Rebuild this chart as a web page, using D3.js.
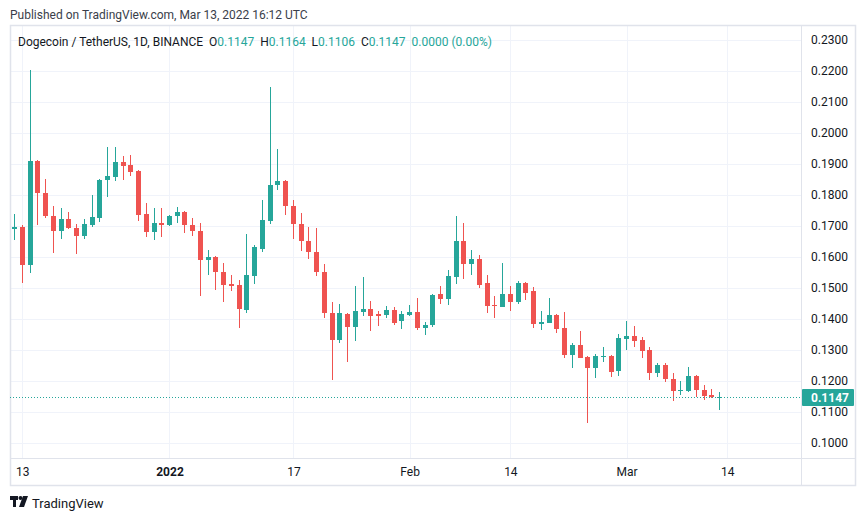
<!DOCTYPE html>
<html><head><meta charset="utf-8">
<script src="https://cdn.jsdelivr.net/npm/d3@7"></script>
<style>
html,body{margin:0;padding:0;background:#fff;}
svg{display:block;font-family:Roboto,"Open Sans",sans-serif;}
</style></head>
<body>
<svg id="chart" width="867" height="521"></svg>
<script>
const dates = ["2021-12-12","2021-12-13","2021-12-14","2021-12-15","2021-12-16","2021-12-17","2021-12-18","2021-12-19","2021-12-20","2021-12-21","2021-12-22","2021-12-23","2021-12-24","2021-12-25","2021-12-26","2021-12-27","2021-12-28","2021-12-29","2021-12-30","2021-12-31",
"2022-01-01","2022-01-02","2022-01-03","2022-01-04","2022-01-05","2022-01-06","2022-01-07","2022-01-08","2022-01-09","2022-01-10","2022-01-11","2022-01-12","2022-01-13","2022-01-14","2022-01-15","2022-01-16","2022-01-17","2022-01-18","2022-01-19","2022-01-20","2022-01-21","2022-01-22","2022-01-23","2022-01-24","2022-01-25","2022-01-26","2022-01-27","2022-01-28","2022-01-29","2022-01-30","2022-01-31",
"2022-02-01","2022-02-02","2022-02-03","2022-02-04","2022-02-05","2022-02-06","2022-02-07","2022-02-08","2022-02-09","2022-02-10","2022-02-11","2022-02-12","2022-02-13","2022-02-14","2022-02-15","2022-02-16","2022-02-17","2022-02-18","2022-02-19","2022-02-20","2022-02-21","2022-02-22","2022-02-23","2022-02-24","2022-02-25","2022-02-26","2022-02-27","2022-02-28",
"2022-03-01","2022-03-02","2022-03-03","2022-03-04","2022-03-05","2022-03-06","2022-03-07","2022-03-08","2022-03-09","2022-03-10","2022-03-11","2022-03-12","2022-03-13"];
const open = [0.1689,0.1698,0.1573,0.1911,0.1808,0.1733,0.1683,0.1723,0.1694,0.1669,0.1704,0.1727,0.1849,0.1859,0.1906,0.1897,0.1877,0.1740,0.1680,0.1711,
0.1702,0.1731,0.1746,0.1704,0.1685,0.1589,0.1601,0.1553,0.1512,0.1509,0.1428,0.1538,0.1625,0.1715,0.1831,0.1846,0.1766,0.1708,0.1653,0.1617,0.1553,0.1420,0.1331,0.1417,0.1373,0.1424,0.1433,0.1417,0.1414,0.1430,0.1392,
0.1414,0.1424,0.1370,0.1380,0.1482,0.1466,0.1537,0.1653,0.1578,0.1595,0.1517,0.1446,0.1440,0.1482,0.1456,0.1517,0.1490,0.1385,0.1388,0.1413,0.1371,0.1285,0.1316,0.1278,0.1243,0.1279,0.1282,0.1233,
0.1335,0.1345,0.1332,0.1301,0.1225,0.1253,0.1208,0.1167,0.1169,0.1217,0.1172,0.1156,0.1147];
const high = [0.1739,0.1703,0.2203,0.1913,0.1852,0.1766,0.1758,0.1745,0.1706,0.1723,0.1800,0.1853,0.1955,0.1955,0.1926,0.1929,0.1881,0.1775,0.1759,0.1759,
0.1737,0.1762,0.1748,0.1727,0.1711,0.1624,0.1604,0.1582,0.1541,0.1525,0.1673,0.1638,0.1783,0.2150,0.1949,0.1848,0.1785,0.1743,0.1698,0.1695,0.1578,0.1456,0.1449,0.1420,0.1508,0.1537,0.1459,0.1427,0.1443,0.1440,0.1427,
0.1446,0.1469,0.1391,0.1482,0.1508,0.1559,0.1733,0.1711,0.1624,0.1608,0.1543,0.1475,0.1582,0.1508,0.1524,0.1519,0.1503,0.1426,0.1468,0.1416,0.1423,0.1323,0.1361,0.1281,0.1288,0.1311,0.1284,0.1352,
0.1394,0.1377,0.1342,0.1311,0.1259,0.1259,0.1227,0.1201,0.1246,0.1220,0.1188,0.1175,0.1164];
const low = [0.1655,0.1515,0.1550,0.1704,0.1725,0.1614,0.1659,0.1690,0.1610,0.1659,0.1698,0.1714,0.1792,0.1846,0.1849,0.1861,0.1717,0.1663,0.1654,0.1663,
0.1699,0.1709,0.1676,0.1667,0.1473,0.1541,0.1492,0.1454,0.1489,0.1370,0.1418,0.1512,0.1615,0.1705,0.1817,0.1734,0.1657,0.1618,0.1592,0.1538,0.1402,0.1202,0.1321,0.1260,0.1328,0.1411,0.1362,0.1378,0.1404,0.1382,0.1367,
0.1411,0.1363,0.1347,0.1373,0.1449,0.1446,0.1514,0.1530,0.1543,0.1501,0.1420,0.1404,0.1438,0.1427,0.1449,0.1462,0.1372,0.1366,0.1386,0.1356,0.1275,0.1243,0.1273,0.1065,0.1211,0.1262,0.1214,0.1217,
0.1301,0.1310,0.1275,0.1204,0.1212,0.1196,0.1134,0.1154,0.1166,0.1147,0.1140,0.1146,0.1106];
const close = [0.1698,0.1573,0.1911,0.1805,0.1731,0.1683,0.1723,0.1692,0.1669,0.1706,0.1729,0.1848,0.1861,0.1906,0.1894,0.1874,0.1737,0.1680,0.1711,0.1702,
0.1733,0.1746,0.1702,0.1683,0.1589,0.1601,0.1551,0.1509,0.1505,0.1431,0.1541,0.1631,0.1718,0.1833,0.1846,0.1763,0.1705,0.1651,0.1615,0.1551,0.1418,0.1331,0.1420,0.1373,0.1427,0.1433,0.1411,0.1411,0.1430,0.1388,0.1417,
0.1424,0.1370,0.1382,0.1478,0.1466,0.1540,0.1653,0.1578,0.1595,0.1511,0.1443,0.1443,0.1482,0.1456,0.1517,0.1485,0.1385,0.1391,0.1413,0.1369,0.1285,0.1316,0.1275,0.1243,0.1282,0.1282,0.1230,0.1339,
0.1345,0.1329,0.1298,0.1227,0.1253,0.1205,0.1167,0.1172,0.1217,0.1170,0.1153,0.1147,0.1147];
const timeTickDates = ["2021-12-13","2022-01-01","2022-01-17","2022-02-01","2022-02-14","2022-03-01","2022-03-14"];
const timeTickLabels = ["13","2022","17","Feb","14","Mar","14"];
const priceTicks = [0.10,0.11,0.12,0.13,0.14,0.15,0.16,0.17,0.18,0.19,0.20,0.21,0.22,0.23];
const lastPrice = 0.1147;

const UP = "#26a69a", DOWN = "#ef5350", GRID = "#f0f3fa", BORDER = "#e0e3eb", TXT = "#131722";
const parse = d3.utcParse("%Y-%m-%d");
const svg = d3.select("#chart");
const L = 10, R = 801, T = 26, B = 458, OUTR = 856, OUTB = 486;

const x = d3.scaleUtc().domain([parse("2021-12-13"), parse("2022-03-14")]).range([22.3, 727.3]);
const y = d3.scaleLinear().domain([0.10, 0.23]).range([443, 40]);

// header
svg.append("text").attr("x", 10).attr("y", 19).attr("font-size", 12).attr("fill", "#3a3e4a")
  .text("Published on TradingView.com, Mar 13, 2022 16:12 UTC");

// grid
const g = svg.append("g");
g.selectAll(".hg").data(priceTicks).join("line")
  .attr("x1", L).attr("x2", R).attr("y1", d => Math.round(y(d)) + 0.5).attr("y2", d => Math.round(y(d)) + 0.5)
  .attr("stroke", GRID);
g.selectAll(".vg").data(timeTickDates).join("line")
  .attr("y1", T).attr("y2", B).attr("x1", d => Math.round(x(parse(d))) + 0.5).attr("x2", d => Math.round(x(parse(d))) + 0.5)
  .attr("stroke", GRID);

// frame
svg.append("rect").attr("x", L + 0.5).attr("y", T - 0.5).attr("width", OUTR - L - 1).attr("height", OUTB - T)
  .attr("fill", "none").attr("stroke", BORDER).attr("stroke-width", 1.5);
svg.append("line").attr("x1", R + 0.5).attr("x2", R + 0.5).attr("y1", T).attr("y2", OUTB).attr("stroke", BORDER);
svg.append("line").attr("x1", L).attr("x2", OUTR).attr("y1", B + 0.5).attr("y2", B + 0.5).attr("stroke", BORDER);

// clip
svg.append("clipPath").attr("id", "plot").append("rect").attr("x", L + 1).attr("y", T).attr("width", R - L - 1).attr("height", B - T);

const data = dates.map((d, i) => ({date: parse(d), o: open[i], h: high[i], l: low[i], c: close[i]}));
const cg = svg.append("g").attr("clip-path", "url(#plot)").attr("shape-rendering", "crispEdges");
const cand = cg.selectAll("g.c").data(data).join("g");
cand.append("rect")
  .attr("x", d => Math.floor(x(d.date)))
  .attr("width", 1)
  .attr("y", d => y(d.h))
  .attr("height", d => Math.max(1, y(d.l) - y(d.h)))
  .attr("fill", d => d.c >= d.o ? UP : DOWN);
cand.append("rect")
  .attr("x", d => Math.floor(x(d.date)) - 2)
  .attr("width", 5)
  .attr("y", d => y(Math.max(d.o, d.c)))
  .attr("height", d => Math.max(1, Math.abs(y(d.o) - y(d.c))))
  .attr("fill", d => d.c >= d.o ? UP : DOWN);

// last price dotted line
svg.append("line").attr("x1", L).attr("x2", R).attr("y1", Math.round(y(lastPrice)) + 0.5).attr("y2", Math.round(y(lastPrice)) + 0.5)
  .attr("stroke", UP).attr("stroke-dasharray", "1,2");

// price axis
const yAxis = d3.axisRight(y).tickValues(priceTicks).tickFormat(d3.format(".4f")).tickSize(0).tickPadding(10);
const ya = svg.append("g").attr("transform", `translate(${R},0)`).call(yAxis);
ya.select(".domain").remove();
ya.selectAll("text").attr("font-size", 12).attr("fill", TXT).attr("font-family", "Roboto,sans-serif");

// last price label
const ly = y(lastPrice);
svg.append("rect").attr("x", R + 1).attr("y", ly - 8.5).attr("width", 52).attr("height", 17).attr("rx", 1).attr("fill", UP);
svg.append("text").attr("x", R + 10).attr("y", ly + 4.5).attr("font-size", 12).attr("font-weight", "bold").attr("fill", "#fff")
  .text(d3.format(".4f")(lastPrice));

// time axis
const xAxis = d3.axisBottom(x).tickValues(timeTickDates.map(parse))
  .tickFormat((d, i) => timeTickLabels[i]).tickSize(0).tickPadding(9);
const xa = svg.append("g").attr("transform", `translate(0,${B})`).call(xAxis);
xa.select(".domain").remove();
xa.selectAll("text").attr("font-size", 12).attr("fill", TXT).attr("font-family", "Roboto,sans-serif")
  .attr("font-weight", (d, i) => timeTickLabels[i] === "2022" ? "bold" : null);

// legend
const leg = svg.append("text").attr("x", 18).attr("y", 46).attr("font-size", 12).attr("fill", TXT).attr("xml:space", "preserve");
const last = data[data.length - 1];
const chg = last.c - data[data.length - 1].o;
leg.append("tspan").text("Dogecoin / TetherUS, 1D, BINANCE  ");
[["O", last.o], ["H", last.h], ["L", last.l], ["C", last.c]].forEach(([k, v]) => {
  leg.append("tspan").attr("fill", TXT).text(k);
  leg.append("tspan").attr("fill", UP).text(d3.format(".4f")(v) + "  ");
});
leg.append("tspan").attr("fill", UP).text(d3.format(".4f")(chg) + " (" + d3.format(".2f")(chg / last.o * 100) + "%)");

// footer logo
const lg = svg.append("g").attr("transform", "translate(10,496)").attr("fill", TXT);
lg.append("rect").attr("x", 0).attr("y", 0).attr("width", 8).attr("height", 4);
lg.append("rect").attr("x", 3).attr("y", 0).attr("width", 3).attr("height", 11);
lg.append("circle").attr("cx", 10.5).attr("cy", 2).attr("r", 2);
lg.append("path").attr("d", "M13 0 L18 0 L14 11 L9 11 Z");
svg.append("text").attr("x", 32).attr("y", 508).attr("font-size", 13).attr("fill", TXT).text("TradingView");
</script>
</body></html>
